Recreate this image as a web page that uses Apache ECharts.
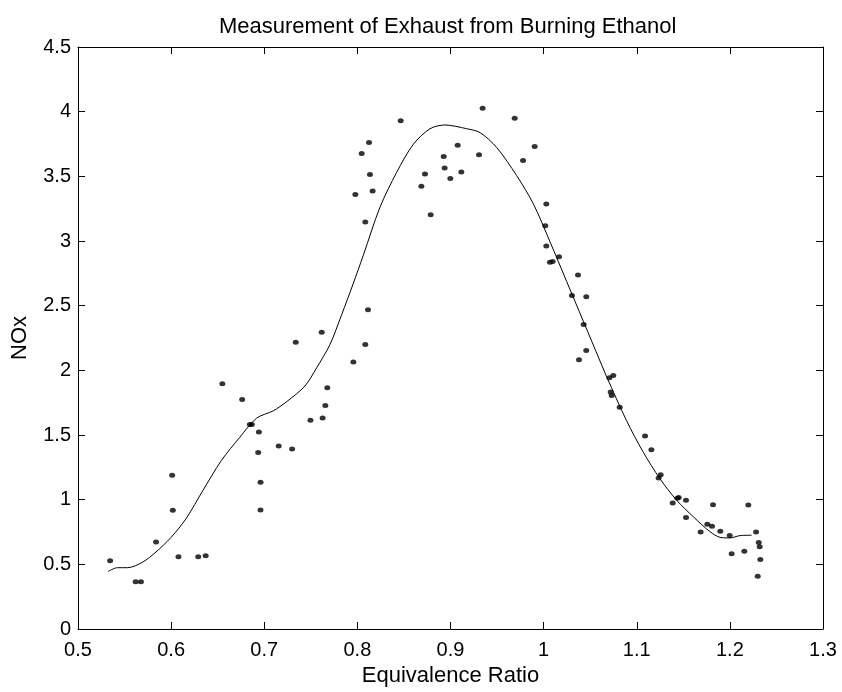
<!DOCTYPE html>
<html>
<head>
<meta charset="utf-8">
<script src="https://cdn.jsdelivr.net/npm/echarts@6/dist/echarts.min.js"></script>
<style>
html,body{margin:0;padding:0;background:#fff;}
#chart{width:842px;height:692px;}
</style>
</head>
<body>
<div id="chart"></div>
<script>
var titleText = 'Measurement of Exhaust from Burning Ethanol';
var xName = 'Equivalence Ratio';
var yName = 'NOx';

// measured points (equivalence ratio, NOx)
var obsX = [0.5345,0.5619,0.5676,0.5838,0.6011,0.6018,0.6079,0.6291,0.6371,0.6550,0.6763,0.6845,0.6867,0.6942,0.6935,0.6960,0.6960,0.7155,0.7299,0.7338,0.7496,0.7627,0.7656,0.7677,0.7617,0.7957,0.8085,0.8114,0.8085,0.7978,0.8164,0.8135,0.8046,0.8125,0.8465,0.8687,0.8726,0.8787,0.8927,0.8937,0.8998,0.9077,0.9116,0.9306,0.9345,0.9689,0.9779,0.9904,1.0029,1.0018,1.0029,1.0068,1.0097,1.0165,1.0369,1.0304,1.0458,1.0430,1.0458,1.0380,1.0706,1.0748,1.0720,1.0731,1.0817,1.1089,1.1157,1.1257,1.1235,1.1386,1.1436,1.1450,1.1529,1.1529,1.1819,1.1758,1.1808,1.1686,1.1897,1.1998,1.2019,1.2155,1.2198,1.2281,1.2310,1.2320,1.2327,1.2299];
var obsY = [0.527,0.366,0.366,0.673,1.188,0.919,0.558,0.558,0.566,1.897,1.774,1.582,1.582,1.523,1.364,1.134,0.921,1.415,1.392,2.217,1.615,1.631,1.728,1.866,2.294,2.064,2.199,2.468,3.147,3.359,3.387,3.515,3.676,3.761,3.930,3.423,3.518,3.203,3.653,3.564,3.484,3.740,3.533,3.666,4.027,3.950,3.623,3.730,3.287,3.118,2.962,2.836,2.841,2.878,2.737,2.578,2.568,2.355,2.153,2.081,1.943,1.961,1.833,1.805,1.715,1.492,1.385,1.193,1.167,0.975,1.011,1.017,0.996,0.863,0.960,0.809,0.794,0.750,0.755,0.722,0.581,0.601,0.958,0.750,0.668,0.635,0.538,0.407];

// fitted curve
var fitX = [0.5324,0.5424,0.5532,0.5694,0.5838,0.6000,0.6162,0.6342,0.6540,0.6737,0.6917,0.7097,0.7241,0.7437,0.7563,0.7706,0.7831,0.7950,0.8064,0.8243,0.8422,0.8601,0.8780,0.8941,0.9174,0.9317,0.9496,0.9711,0.9890,1.0069,1.0248,1.0427,1.0606,1.0677,1.0891,1.1070,1.1249,1.1428,1.1607,1.1786,1.1893,1.2001,1.2108,1.2234];
var fitY = [0.445,0.474,0.474,0.517,0.596,0.709,0.855,1.072,1.303,1.482,1.630,1.687,1.758,1.879,2.020,2.200,2.430,2.660,2.890,3.262,3.531,3.748,3.868,3.897,3.868,3.838,3.723,3.505,3.287,2.993,2.686,2.379,2.071,1.950,1.610,1.367,1.162,0.996,0.868,0.753,0.709,0.704,0.722,0.725];

var xMin = 0.5, xMax = 1.3, xStep = 0.1;
var yMin = 0, yMax = 4.5, yStep = 0.5;

var FONT = '"Liberation Sans", Arial, sans-serif';

function zip(a, b) { return a.map(function (v, i) { return [v, b[i]]; }); }
function fmt(v) { return String(+v.toFixed(2)); }

var axisLineStyle = { color: '#000', width: 1 };

var chart = echarts.init(document.getElementById('chart'), null, { renderer: 'canvas' });
chart.setOption({
  animation: false,
  backgroundColor: '#fff',
  title: {
    text: titleText,
    left: 214,
    top: 11,
    textStyle: { fontFamily: FONT, fontSize: 22, fontWeight: 'normal', color: '#000' }
  },
  grid: { left: 78, right: 19, top: 47, bottom: 59, containLabel: false },
  xAxis: [{
    type: 'value', min: xMin, max: xMax, interval: xStep,
    name: xName, nameLocation: 'middle', nameGap: 36,
    nameTextStyle: { fontFamily: FONT, fontSize: 22, color: '#000' },
    axisLine: { show: true, onZero: false, lineStyle: axisLineStyle },
    axisTick: { show: true, inside: true, length: 7, lineStyle: axisLineStyle },
    axisLabel: { fontFamily: FONT, fontSize: 20, color: '#000', margin: 11, formatter: fmt },
    splitLine: { show: false }
  }, {
    type: 'value', min: xMin, max: xMax, interval: xStep, position: 'top',
    axisLine: { show: true, onZero: false, lineStyle: axisLineStyle },
    axisTick: { show: true, inside: true, length: 7, lineStyle: axisLineStyle },
    axisLabel: { show: false },
    splitLine: { show: false }
  }],
  yAxis: [{
    type: 'value', min: yMin, max: yMax, interval: yStep,
    name: yName, nameLocation: 'middle', nameGap: 47, nameRotate: 90,
    nameTextStyle: { fontFamily: FONT, fontSize: 22, color: '#000' },
    axisLine: { show: true, onZero: false, lineStyle: axisLineStyle },
    axisTick: { show: true, inside: true, length: 7, lineStyle: axisLineStyle },
    axisLabel: { fontFamily: FONT, fontSize: 20, color: '#000', margin: 7, formatter: fmt },
    splitLine: { show: false }
  }, {
    type: 'value', min: yMin, max: yMax, interval: yStep, position: 'right',
    axisLine: { show: true, onZero: false, lineStyle: axisLineStyle },
    axisTick: { show: true, inside: true, length: 7, lineStyle: axisLineStyle },
    axisLabel: { show: false },
    splitLine: { show: false }
  }],
  series: [{
    type: 'scatter',
    data: zip(obsX, obsY),
    symbol: 'circle',
    symbolSize: [6, 5],
    itemStyle: { color: '#000' },
    silent: true
  }, {
    type: 'line',
    data: zip(fitX, fitY),
    showSymbol: false,
    smooth: 0.3,
    lineStyle: { color: '#000', width: 1 },
    silent: true
  }]
});
</script>
</body>
</html>
